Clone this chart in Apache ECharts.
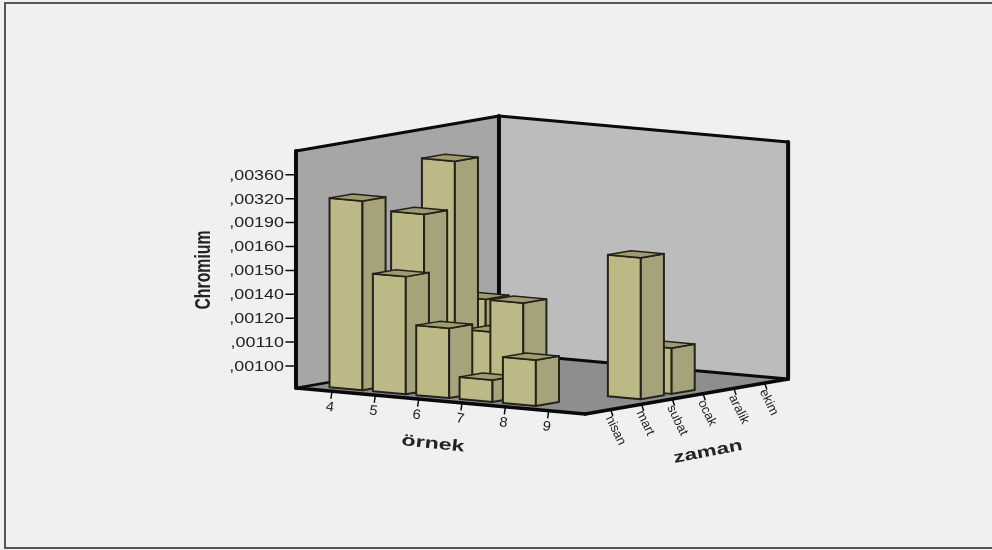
<!DOCTYPE html>
<html>
<head>
<meta charset="utf-8">
<title>Chromium</title>
<script src="https://cdn.jsdelivr.net/npm/echarts@6/dist/echarts.min.js"></script>
<style>
html, body { margin: 0; padding: 0; background: #f0f0f0; }
#chart { width: 992px; height: 550px; }
</style>
</head>
<body>
<div id="chart"></div>
<script>
// axis labels
const ornekLabels = ['4', '5', '6', '7', '8', '9']
const zamanLabels = ['nisan', 'mart', 'subat', 'ocak', 'aralik', 'ekim']
const chromiumLabels = [',00100', ',00110', ',00120', ',00140', ',00150', ',00160', ',00190', ',00320', ',00360']

// one entry per bar
const barOrnek = ['4', '5', '4', '4', '6', '7', '8', '7', '5', '4', '9', '9']
const barZaman = ['nisan', 'nisan', 'subat', 'ocak', 'nisan', 'nisan', 'nisan', 'mart', 'ocak', 'aralik', 'subat', 'ocak']
const barChromium = [',00320', ',00150', ',00190', ',00360', ',00120', ',00100', ',00110', ',00140', ',00110', ',00120', ',00160', ',00110']

// oblique box, all three in "slots" of the axes
const U_MAX = 6.67, V_MAX = 6.59, H_MAX = 9.92
const U0 = 0.83, V0 = 0.83, H0 = 0.92
const BAR_U = 0.38, BAR_V = 0.375

function project(u, v, h) {
  return [296 + u * 43.35 + v * 30.8, 388 + u * 3.9 - v * 5.31 - h * 23.9]
}

const TXT = '#222'
const FONT = '"Liberation Sans", Arial, sans-serif'
const rad = d => d * Math.PI / 180

function poly(api, pts, fill, stroke, lw) {
  return {
    type: 'polygon',
    shape: { points: pts.map(p => api.coord(project(p[0], p[1], p[2]))) },
    style: { fill: fill, stroke: stroke || null, lineWidth: lw || 0, lineJoin: 'round' }
  }
}

function line(api, a, b, lw, dx, dy) {
  const p = api.coord(project(a[0], a[1], a[2]))
  const q = api.coord(project(b[0], b[1], b[2]))
  return {
    type: 'line',
    shape: { x1: p[0], y1: p[1], x2: q[0] + (dx || 0), y2: q[1] + (dy || 0) },
    style: { stroke: '#0a0a0a', lineWidth: lw, lineCap: 'round' }
  }
}

function label(api, at, dx, dy, text, rot, opt) {
  const p = api.coord(project(at[0], at[1], at[2]))
  return {
    type: 'text',
    x: p[0] + dx,
    y: p[1] + dy,
    rotation: rad(rot),
    scaleX: opt.scaleX || 1,
    style: {
      text: text,
      font: opt.font,
      fill: opt.fill || TXT,
      align: opt.align || 'center',
      verticalAlign: 'middle'
    }
  }
}

// walls and floor
function renderBox(params, api) {
  const children = [
    poly(api, [[0, 0, 0], [0, 0, H_MAX], [0, V_MAX, H_MAX], [0, V_MAX, 0]], '#a6a6a6'),
    poly(api, [[0, V_MAX, 0], [0, V_MAX, H_MAX], [U_MAX, V_MAX, H_MAX], [U_MAX, V_MAX, 0]], '#bcbcbc'),
    poly(api, [[0, 0, 0], [0, V_MAX, 0], [U_MAX, V_MAX, 0], [U_MAX, 0, 0]], '#8e8e8e'),
    line(api, [0, 0, 0], [0, V_MAX, 0], 2.5),
    line(api, [0, V_MAX, 0], [U_MAX, V_MAX, 0], 3),
    line(api, [0, V_MAX, 0], [0, V_MAX, H_MAX], 4),
    line(api, [0, 0, H_MAX], [0, V_MAX, H_MAX], 3),
    line(api, [0, V_MAX, H_MAX], [U_MAX, V_MAX, H_MAX], 3),
    line(api, [U_MAX, V_MAX, 0], [U_MAX, V_MAX, H_MAX], 4),
    line(api, [0, 0, 0], [0, 0, H_MAX], 4),
    line(api, [0, 0, 0], [U_MAX, 0, 0], 3.5),
    line(api, [U_MAX, 0, 0], [U_MAX, V_MAX, 0], 3.5)
  ]
  return { type: 'group', children: children }
}

// back to front, bars nearer the front corner are painted last
const barOrder = barOrnek.map((b, n) => n).sort((a, b) =>
  (ornekLabels.indexOf(barOrnek[a]) - zamanLabels.indexOf(barZaman[a])) -
  (ornekLabels.indexOf(barOrnek[b]) - zamanLabels.indexOf(barZaman[b])))

const barData = barOrder.map(n => [
  ornekLabels.indexOf(barOrnek[n]),
  zamanLabels.indexOf(barZaman[n]),
  chromiumLabels.indexOf(barChromium[n])
])

function renderBar(params, api) {
  const u = U0 + api.value(0)
  const v = V0 + api.value(1)
  const h = H0 + api.value(2)
  const edge = '#23221a'
  const u1 = u - BAR_U, u2 = u + BAR_U, v1 = v - BAR_V, v2 = v + BAR_V
  return {
    type: 'group',
    children: [
      poly(api, [[u1, v1, 0], [u1, v1, h], [u2, v1, h], [u2, v1, 0]], '#bdb987', edge, 2),
      poly(api, [[u2, v1, 0], [u2, v1, h], [u2, v2, h], [u2, v2, 0]], '#a6a37a', edge, 2),
      poly(api, [[u1, v1, h], [u2, v1, h], [u2, v2, h], [u1, v2, h]], '#9f9b6f', edge, 1.5)
    ]
  }
}

function renderOrnekTick(params, api) {
  const u = U0 + params.dataIndex
  return {
    type: 'group',
    children: [
      line(api, [u, 0, 0], [u, 0, 0], 1.5, -1, 7),
      label(api, [u, 0, 0], -2, 16, ornekLabels[params.dataIndex], -9, { font: '14px ' + FONT, scaleX: 1.05 })
    ]
  }
}

function renderZamanTick(params, api) {
  const v = V0 + params.dataIndex
  return {
    type: 'group',
    children: [
      line(api, [U_MAX, v, 0], [U_MAX, v, 0], 1.5, 2, 6),
      label(api, [U_MAX, v, 0], -2, 7, zamanLabels[params.dataIndex], -64, { font: '13px ' + FONT, align: 'left' })
    ]
  }
}

function renderChromiumTick(params, api) {
  const h = H0 + params.dataIndex
  return {
    type: 'group',
    children: [
      line(api, [0, 0, h], [0, 0, h], 1.5, -10, 0),
      label(api, [0, 0, h], -12, 1, chromiumLabels[params.dataIndex], 0, {
        font: '14px ' + FONT, align: 'right', scaleX: 1.28
      })
    ]
  }
}

function customSeries(data, renderItem, z) {
  return { type: 'custom', coordinateSystem: 'cartesian2d', data: data, renderItem: renderItem, clip: false, silent: true, z: z }
}

const titleFont = 'bold 16px ' + FONT

const option = {
  animation: false,
  backgroundColor: '#f0f0f0',
  grid: { left: 0, right: 0, top: 0, bottom: 0 },
  xAxis: { type: 'value', min: 0, max: 992, show: false },
  yAxis: { type: 'value', min: 0, max: 550, inverse: true, show: false },
  graphic: [
    { type: 'rect', shape: { x: 5, y: 3, width: 1000, height: 545 }, style: { fill: 'none', stroke: '#555', lineWidth: 2 }, z: 0 },
    { type: 'text', x: 204, y: 270, rotation: rad(90), scaleX: 0.72, style: { text: 'Chromium', font: 'bold 22px ' + FONT, fill: '#222', align: 'center', verticalAlign: 'middle' } },
    { type: 'text', x: 433, y: 444, rotation: rad(-6), scaleX: 1.45, style: { text: 'örnek', font: titleFont, fill: '#222', align: 'center', verticalAlign: 'middle' } },
    { type: 'text', x: 708, y: 452, rotation: rad(11), scaleX: 1.4, style: { text: 'zaman', font: titleFont, fill: '#222', align: 'center', verticalAlign: 'middle' } }
  ],
  series: [
    customSeries([[0]], renderBox, 1),
    customSeries(ornekLabels.map((l, i) => [i]), renderOrnekTick, 2),
    customSeries(zamanLabels.map((l, i) => [i]), renderZamanTick, 2),
    customSeries(chromiumLabels.map((l, i) => [i]), renderChromiumTick, 2),
    customSeries(barData, renderBar, 3)
  ]
}

const chart = echarts.init(document.getElementById('chart'), null, { renderer: 'canvas' })
chart.setOption(option)
</script>
</body>
</html>
